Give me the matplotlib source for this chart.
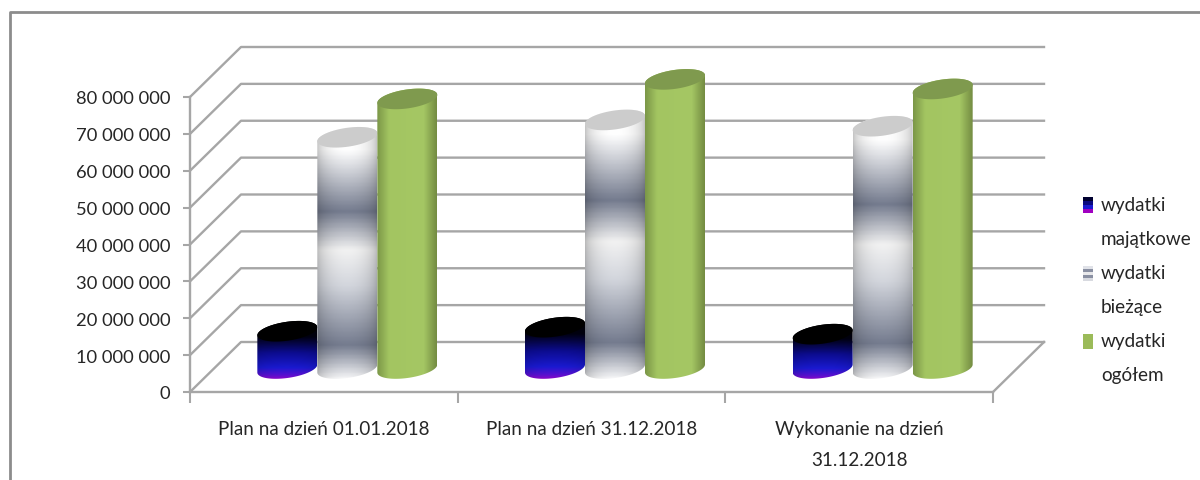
import numpy as np
import matplotlib
matplotlib.use("Agg")
import matplotlib.pyplot as plt
from matplotlib.colors import LinearSegmentedColormap
from matplotlib.legend_handler import HandlerBase
from matplotlib.lines import Line2D
from matplotlib.patches import Patch, Polygon, Rectangle

plt.rcParams['font.family'] = ['Lato', 'DejaVu Sans']

categories = ["Plan na dzień 01.01.2018", "Plan na dzień 31.12.2018", "Wykonanie na dzień\n31.12.2018"]
wydatki_majatkowe = [9700000, 10800000, 8900000]
wydatki_biezace = [62300000, 67000000, 65300000]
wydatki_ogolem = [72700000, 78000000, 75400000]
series_names = ["wydatki\nmajątkowe", "wydatki\nbieżące", "wydatki\nogółem"]
y_ticks = [0, 10000000, 20000000, 30000000, 40000000, 50000000, 60000000, 70000000, 80000000]
y_labels = ["0", "10 000 000", "20 000 000", "30 000 000", "40 000 000",
            "50 000 000", "60 000 000", "70 000 000", "80 000 000"]

W, H = 1200, 481
GREY = "#a6a6a6"
TXT = "#262626"

# pixel box of the front plane
LEFT, RIGHT, BOTTOM, TOP = 190, 993, 393, 98
px_x = 3 / (RIGHT - LEFT)
px_y = 80000000 / (BOTTOM - TOP)
DX, DY = 51 * px_x, 50 * px_y   # depth of the fake 3d box

fig = plt.figure(figsize=(W / 100, H / 100), dpi=100)
ax = fig.add_axes([LEFT / W, 1 - BOTTOM / H, (RIGHT - LEFT) / W, (BOTTOM - TOP) / H])
ax.set_xlim(0, 3)
ax.set_ylim(0, 80000000)
ax.patch.set_alpha(0)

# outer frame of the picture
fig.add_artist(Line2D([10 / W, 10 / W, 1], [0, 1 - 13 / H, 1 - 13 / H], color="#8c8c8c", lw=2))

# walls
for v in y_ticks:
    ax.plot([0, DX, 3 + DX], [v, v + DY, v + DY], color=GREY, lw=1.7, clip_on=False, zorder=1)
ax.plot([3, 3 + DX], [0, DY], color=GREY, lw=1.7, clip_on=False, zorder=1)

for s in ["top", "right"]:
    ax.spines[s].set_visible(False)
for s in ["left", "bottom"]:
    ax.spines[s].set_color(GREY)
    ax.spines[s].set_linewidth(1.7)

ax.set_yticks(y_ticks, y_labels, fontsize=13.2, color=TXT)
ax.tick_params(axis="y", length=5, width=1.5, color=GREY, pad=9)
ax.set_xticks([0, 1, 2, 3], [])
ax.set_xticks([0.5, 1.5, 2.5], categories, minor=True, fontsize=13.6, color=TXT, linespacing=2.05, va="top")
ax.tick_params(axis="x", which="major", length=8, width=1.5, color=GREY)
ax.tick_params(axis="x", which="minor", length=0, pad=20)

blue_cm = LinearSegmentedColormap.from_list("b", [(0, "#000000"), (0.3, "#000010"), (0.55, "#0c0c90"),
                                                  (0.78, "#1a1ad0"), (0.9, "#5a10d0"), (1, "#b000c0")])
grey_cm = LinearSegmentedColormap.from_list("g", [(0, "#ffffff"), (0.1, "#ffffff"), (0.34, "#747b8e"),
                                                  (0.49, "#f2f2f2"), (0.63, "#d2d5dc"), (0.86, "#747b8e"),
                                                  (1, "#ffffff")])
green_cm = LinearSegmentedColormap.from_list("v", [(0, "#7c9748"), (0.2, "#a3c561"), (0.78, "#a5c764"),
                                                   (1, "#748c42")])

BAR_W = 60 * px_x
A = BAR_W / 2
B = 9.5 * px_y
TILT = 4 * px_y
FLOOR = DY / 2 - 1.5 * px_y


def ring(xc, y, t):
    return np.c_[xc + A * np.cos(t), y + B * np.sin(t) + TILT * np.cos(t)]


def cylinder(xc, y0, y1, cmap, cap, z, vertical=True, edge=0.7):
    t_low = np.linspace(np.pi, 2 * np.pi, 60)
    t_up = np.linspace(0, np.pi, 60)
    outline = np.vstack([ring(xc, y0, t_low), ring(xc, y1, t_up)])
    lo, hi = y0 - B - TILT, y1
    if vertical:
        col = cmap(np.linspace(0, 1, 200))[:, :3]
        u = np.linspace(-1, 1, 80)
        shade = edge + (1 - edge) * np.sqrt(1 - (u * 0.97) ** 2)
        img = col[:, None, :] * shade[None, :, None]
    else:
        img = cmap(np.linspace(0, 1, 120))[None, :, :3]
    im = ax.imshow(img, extent=[xc - A, xc + A, lo, hi + B + TILT], origin="upper", aspect="auto",
                   zorder=z, interpolation="bilinear")
    im.set_clip_path(Polygon(outline, transform=ax.transData))
    im.set_clip_box(fig.bbox)
    ax.add_patch(Polygon(ring(xc, y1, np.linspace(0, 2 * np.pi, 120)), closed=True, fc=cap, ec="none",
                         zorder=z + 0.5, clip_on=False))


for i in range(3):
    base = i + 0.5 + DX / 2 - 2 * px_x
    cylinder(base - BAR_W, FLOOR, wydatki_majatkowe[i] + DY / 2, blue_cm, "#000000", 3, edge=0.85)
    cylinder(base, FLOOR, wydatki_biezace[i] + DY / 2, grey_cm, "#cccccc", 4)
    cylinder(base + BAR_W, FLOOR, wydatki_ogolem[i] + DY / 2, green_cm, "#7f9a4e", 5, vertical=False)
ax.set_xlim(0, 3)
ax.set_ylim(0, 80000000)


class Swatch(HandlerBase):
    def __init__(self, colors):
        super().__init__()
        self.colors = colors

    def create_artists(self, legend, orig, x0, y0, width, height, fontsize, trans):
        n = len(self.colors)
        top = y0 + height + 12.5
        return [Rectangle((x0, top - (k + 1) * 11 / n), width, 11 / n + 0.3, fc=c, ec="none", transform=trans)
                for k, c in enumerate(self.colors)]


handles = [Patch(label=n) for n in series_names]
swatches = [["#000030", "#0a0a80", "#1a1ad0", "#a000c0"],
            ["#e0e2e8", "#8a90a2", "#e8e8ea", "#8a90a2", "#d8dae0"],
            ["#9bbb59"]]
leg = fig.legend(handles=handles, labels=series_names, loc="upper left",
                 bbox_to_anchor=(1083 / W, 1 - 197 / H), frameon=False, fontsize=13.6,
                 handlelength=0.55, handletextpad=0.4, labelspacing=0.92, borderpad=0, borderaxespad=0,
                 handler_map={h: Swatch(c) for h, c in zip(handles, swatches)})
for t in leg.get_texts():
    t.set_linespacing(2.2)
    t.set_color(TXT)

fig.savefig("out.png", dpi=100)
